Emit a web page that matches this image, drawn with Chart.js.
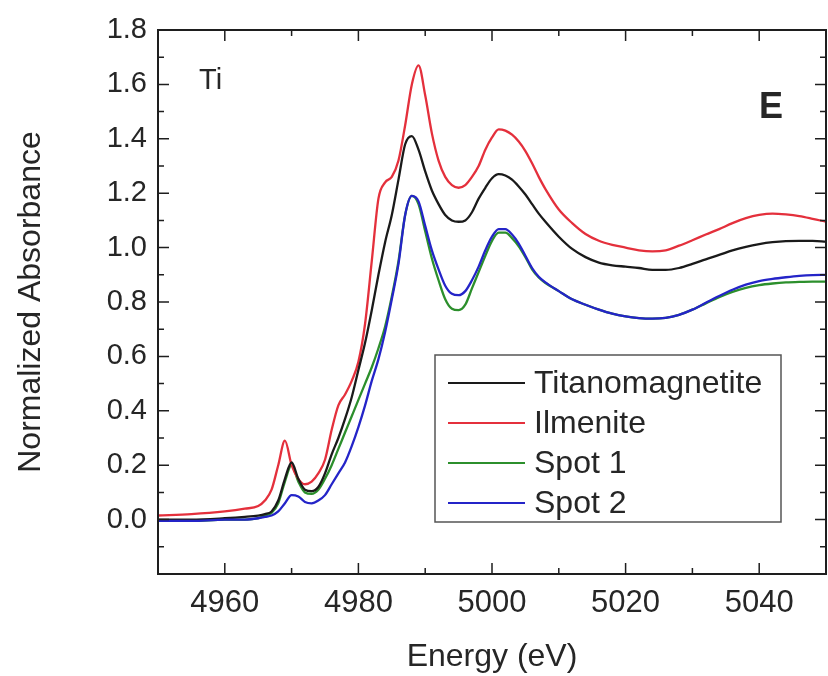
<!DOCTYPE html>
<html>
<head>
<meta charset="utf-8">
<script src="https://cdn.jsdelivr.net/npm/chart.js@4.4.0/dist/chart.umd.min.js"></script>
<style>
  html, body { margin: 0; padding: 0; background: #fff; }
  #wrap { width: 828px; height: 676px; position: relative; }
</style>
</head>
<body>
<div id="wrap"><canvas id="myChart"></canvas></div>
<script>
// energy grid (eV) shared by all spectra
const energy = [4950, 4955, 4960, 4963, 4965, 4966, 4967, 4968, 4969, 4970,
  4971, 4972, 4973, 4974, 4975, 4976, 4977, 4978, 4979, 4980,
  4981, 4982, 4983, 4984, 4985, 4986, 4987, 4988, 4989, 4990,
  4991, 4992, 4993, 4994, 4995, 4996, 4997, 4998, 4999, 5000,
  5001, 5002, 5003, 5004, 5005, 5006, 5007, 5008, 5010, 5012,
  5014, 5016, 5018, 5020, 5022, 5024, 5026, 5028, 5030, 5032,
  5034, 5036, 5038, 5040, 5042, 5044, 5046, 5048, 5050];

const titanomagnetite = [0.0, 0.0, 0.005, 0.01, 0.015, 0.02, 0.03, 0.07, 0.15, 0.21,
  0.15, 0.11, 0.105, 0.12, 0.17, 0.24, 0.30, 0.37, 0.45, 0.55,
  0.65, 0.77, 0.90, 1.02, 1.12, 1.25, 1.38, 1.41, 1.36, 1.28,
  1.21, 1.16, 1.12, 1.10, 1.095, 1.10, 1.13, 1.18, 1.22, 1.255,
  1.27, 1.265, 1.25, 1.225, 1.195, 1.16, 1.125, 1.095, 1.04, 0.995,
  0.965, 0.945, 0.935, 0.93, 0.925, 0.918, 0.918, 0.925, 0.94, 0.957,
  0.973, 0.99, 1.003, 1.013, 1.02, 1.024, 1.025, 1.025, 1.022];

const ilmenite = [0.015, 0.02, 0.03, 0.04, 0.05, 0.07, 0.11, 0.20, 0.29, 0.20,
  0.15, 0.13, 0.14, 0.17, 0.22, 0.33, 0.42, 0.46, 0.51, 0.58,
  0.72, 0.95, 1.18, 1.24, 1.26, 1.32, 1.45, 1.60, 1.67, 1.56,
  1.42, 1.32, 1.26, 1.23, 1.22, 1.23, 1.26, 1.30, 1.36, 1.405,
  1.435, 1.43, 1.415, 1.39, 1.355, 1.31, 1.26, 1.215, 1.14, 1.09,
  1.05, 1.025, 1.01, 1.0, 0.99, 0.986, 0.99, 1.007, 1.027, 1.048,
  1.068, 1.09, 1.108, 1.12, 1.125, 1.122, 1.116, 1.106, 1.095];

const spot1 = [-0.005, -0.005, 0.0, 0.0, 0.005, 0.015, 0.025, 0.06, 0.14, 0.20,
  0.14, 0.10, 0.095, 0.11, 0.15, 0.20, 0.26, 0.32, 0.38, 0.44,
  0.50, 0.56, 0.63, 0.71, 0.82, 0.95, 1.12, 1.19, 1.16, 1.06,
  0.96, 0.88, 0.81, 0.775, 0.77, 0.79, 0.85, 0.91, 0.97, 1.025,
  1.055, 1.055, 1.035, 1.005, 0.965, 0.92, 0.89, 0.87, 0.84, 0.81,
  0.79, 0.772, 0.757, 0.747, 0.741, 0.739, 0.742, 0.753, 0.772, 0.795,
  0.818, 0.837, 0.852, 0.862, 0.868, 0.872, 0.874, 0.875, 0.875];

const spot2 = [-0.005, -0.005, 0.0, 0.0, 0.005, 0.01, 0.015, 0.03, 0.06, 0.09,
  0.085, 0.065, 0.06, 0.07, 0.09, 0.13, 0.17, 0.21, 0.27, 0.34,
  0.42, 0.51, 0.59, 0.69, 0.81, 0.94, 1.12, 1.19, 1.17, 1.08,
  0.99, 0.92, 0.86, 0.83, 0.825, 0.84, 0.88, 0.93, 0.99, 1.04,
  1.068, 1.068, 1.048, 1.015, 0.97, 0.925, 0.893, 0.872, 0.84, 0.81,
  0.79, 0.772, 0.757, 0.747, 0.741, 0.739, 0.742, 0.753, 0.772, 0.797,
  0.822, 0.845, 0.864, 0.877, 0.885, 0.891, 0.896, 0.899, 0.90];

const xTicks = [4960, 4980, 5000, 5020, 5040];
const yTicks = [0.0, 0.2, 0.4, 0.6, 0.8, 1.0, 1.2, 1.4, 1.6, 1.8];

const FONT = "'Liberation Sans', Arial, sans-serif";
const TXT = '#262626';

function pts(ys) {
  return energy.map((e, i) => ({x: e, y: ys[i]}));
}

// box frame with inward major/minor ticks on all four sides
const frameTicks = {
  id: 'frameTicks',
  afterDatasetsDraw(chart) {
    const {ctx, chartArea: a, scales: {x, y}} = chart;
    ctx.save();
    ctx.strokeStyle = '#1e1e1e';
    ctx.lineWidth = 1.5;
    for (let v = x.min; v <= x.max; v += 10) {
      const px = x.getPixelForValue(v);
      const len = xTicks.includes(v) ? 11 : 6;
      ctx.beginPath();
      ctx.moveTo(px, a.bottom); ctx.lineTo(px, a.bottom - len);
      ctx.moveTo(px, a.top); ctx.lineTo(px, a.top + len);
      ctx.stroke();
    }
    for (let i = -2; i <= 18; i++) {
      const py = y.getPixelForValue(i / 10);
      const len = i % 2 === 0 ? 11 : 6;
      ctx.beginPath();
      ctx.moveTo(a.left, py); ctx.lineTo(a.left + len, py);
      ctx.moveTo(a.right, py); ctx.lineTo(a.right - len, py);
      ctx.stroke();
    }
    ctx.lineWidth = 2;
    ctx.strokeRect(a.left, a.top, a.right - a.left, a.bottom - a.top);

    // panel labels
    ctx.fillStyle = TXT;
    ctx.textBaseline = 'middle';
    ctx.textAlign = 'left';
    ctx.font = '29px ' + FONT;
    ctx.fillText('Ti', a.left + 41, a.top + 51);
    ctx.font = 'bold 36px ' + FONT;
    ctx.fillText('E', a.left + 601, a.top + 78);
    ctx.restore();
  }
};

// legend box inside the plot area
const insideLegend = {
  id: 'insideLegend',
  afterDraw(chart) {
    const {ctx} = chart;
    const box = {l: 435, t: 355, r: 781, b: 522};
    ctx.save();
    ctx.fillStyle = '#fff';
    ctx.fillRect(box.l, box.t, box.r - box.l, box.b - box.t);
    ctx.strokeStyle = '#555';
    ctx.lineWidth = 1.5;
    ctx.strokeRect(box.l, box.t, box.r - box.l, box.b - box.t);
    ctx.font = '32px ' + FONT;
    ctx.textBaseline = 'middle';
    ctx.textAlign = 'left';
    chart.data.datasets.forEach((ds, i) => {
      const cy = box.t + 28 + i * 40;
      ctx.strokeStyle = ds.borderColor;
      ctx.lineWidth = 2;
      ctx.beginPath();
      ctx.moveTo(box.l + 13, cy); ctx.lineTo(box.l + 90, cy);
      ctx.stroke();
      ctx.fillStyle = TXT;
      ctx.fillText(ds.label, box.l + 99, cy + 1);
    });
    ctx.restore();
  }
};

const ctx = document.getElementById('myChart').getContext('2d');
const myChart = new Chart(ctx, {
  type: 'line',
  data: {
    datasets: [
      {label: 'Titanomagnetite', data: pts(titanomagnetite), borderColor: '#1a1a1a'},
      {label: 'Ilmenite', data: pts(ilmenite), borderColor: '#e4303c'},
      {label: 'Spot 1', data: pts(spot1), borderColor: '#2c8f2c'},
      {label: 'Spot 2', data: pts(spot2), borderColor: '#2424c8', order: -1}
    ]
  },
  options: {
    responsive: true,
    maintainAspectRatio: false,
    animation: false,
    devicePixelRatio: 1,
    layout: {padding: {top: 30, right: 2, left: 0, bottom: 0}},
    elements: {
      point: {radius: 0},
      line: {borderWidth: 2.3, cubicInterpolationMode: 'monotone', fill: false}
    },
    plugins: {legend: {display: false}, tooltip: {enabled: false}},
    scales: {
      x: {
        type: 'linear',
        min: 4950,
        max: 5050,
        afterBuildTicks: s => { s.ticks = xTicks.map(v => ({value: v})); },
        afterFit: s => { s.height = 102; },
        grid: {display: false, drawTicks: false},
        border: {display: false},
        ticks: {
          autoSkip: false,
          maxRotation: 0,
          padding: 11,
          color: TXT,
          font: {family: FONT, size: 31},
          callback: v => String(v)
        },
        title: {
          display: true,
          text: 'Energy (eV)',
          color: TXT,
          font: {family: FONT, size: 32},
          padding: {top: 0, bottom: 0}
        }
      },
      y: {
        min: -0.2,
        max: 1.8,
        afterBuildTicks: s => { s.ticks = yTicks.map(v => ({value: v})); },
        afterFit: s => { s.width = 158; },
        grid: {display: false, drawTicks: false},
        border: {display: false},
        ticks: {
          padding: 11,
          color: TXT,
          font: {family: FONT, size: 29},
          callback: v => v.toFixed(1)
        },
        title: {
          display: true,
          text: 'Normalized Absorbance',
          color: TXT,
          font: {family: FONT, size: 32},
          padding: {top: 12, bottom: 0}
        }
      }
    }
  },
  plugins: [frameTicks, insideLegend]
});
</script>
</body>
</html>
